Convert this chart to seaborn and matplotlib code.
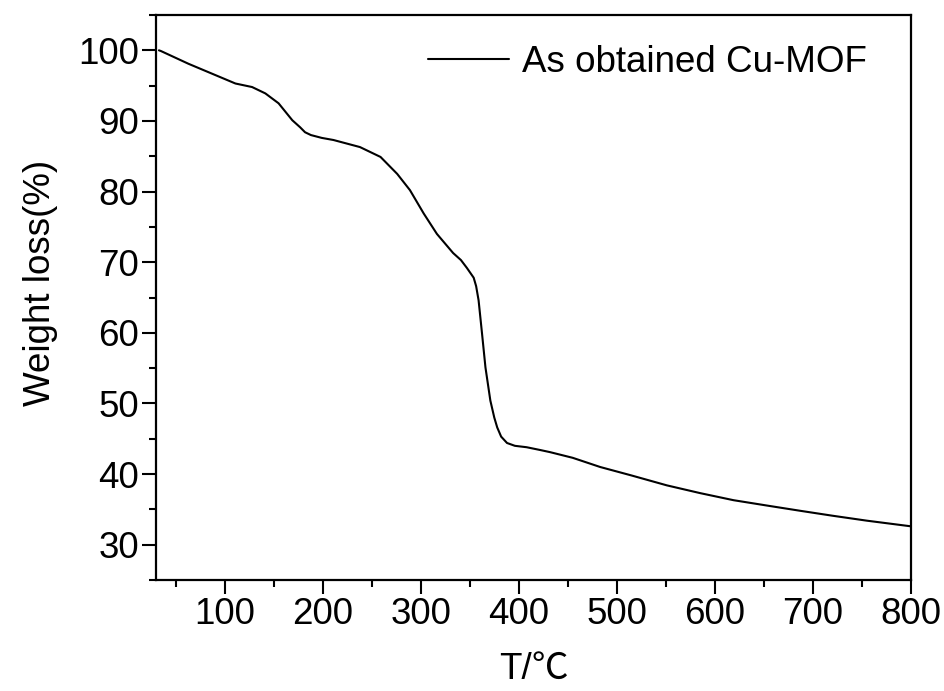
import matplotlib
matplotlib.use("Agg")
import matplotlib.pyplot as plt
import seaborn as sns
import pandas as pd
from matplotlib.ticker import MultipleLocator

temperature = [33, 35, 63, 87, 111, 128, 141.5, 155, 169, 177, 182, 188, 199, 211,
               238, 259, 276, 289, 303, 316.5, 333, 341, 347, 354, 356.5, 359,
               362.5, 366, 371, 375, 378, 382, 388, 396, 408, 422, 432, 455, 483,
               515, 551, 585, 619, 655, 687, 720, 755, 800]
weight = [100, 99.9, 98.1, 96.7, 95.3, 94.8, 93.9, 92.5, 90.1, 89.1, 88.4, 88.0,
          87.6, 87.3, 86.3, 84.9, 82.5, 80.2, 76.9, 74.0, 71.3, 70.3, 69.2, 67.8,
          66.6, 64.6, 59.9, 55.1, 50.4, 48.0, 46.6, 45.3, 44.4, 44.0, 43.8, 43.4,
          43.1, 42.3, 41.0, 39.8, 38.4, 37.3, 36.3, 35.5, 34.8, 34.1, 33.4, 32.6]
series_name = "As obtained Cu-MOF"
x_ticks = [100, 200, 300, 400, 500, 600, 700, 800]
y_ticks = [30, 40, 50, 60, 70, 80, 90, 100]

df = pd.DataFrame({"T": temperature, "W": weight, "series": series_name})

sns.set_style("ticks")
plt.rcParams["font.family"] = ["Liberation Sans", "Noto Sans CJK SC", "DejaVu Sans"]
plt.rcParams["text.color"] = "black"
plt.rcParams["axes.labelcolor"] = "black"
plt.rcParams["xtick.color"] = "black"
plt.rcParams["ytick.color"] = "black"
plt.rcParams["lines.solid_joinstyle"] = "round"

fig = plt.figure(figsize=(9.44, 6.91), dpi=100)
ax = fig.add_axes([156/944, 1-580/691, (911-156)/944, (580-15)/691])

sns.lineplot(data=df, x="T", y="W", hue="series", palette=["black"],
             linewidth=1.5, ax=ax, sort=True)

ax.set_xlim(30, 800)
ax.set_ylim(25, 105)
ax.set_xticks(x_ticks)
ax.set_yticks(y_ticks)
ax.xaxis.set_minor_locator(MultipleLocator(50))
ax.yaxis.set_minor_locator(MultipleLocator(5))
ax.tick_params(which="major", direction="out", length=10, width=1.5,
               labelsize=26.5, pad=2, colors="black")
ax.tick_params(which="minor", direction="out", length=5, width=1.5)
for s in ax.spines.values():
    s.set_linewidth(1.6)
    s.set_color("black")
    s.set_visible(True)

ax.set_xlabel("T/℃", fontsize=26.5, color="black",
              family=["Liberation Sans", "Noto Sans CJK SC"])
ax.set_ylabel("Weight loss(%)", fontsize=26.5, color="black")
ax.xaxis.set_label_coords(0.5, -0.128)
ax.xaxis.label.set_va("top")
ax.yaxis.set_label_coords(-0.130, 0.525)

leg = ax.legend(loc="center left", bbox_to_anchor=((428-156)/755, (580-62)/565),
                frameon=False, fontsize=26.5, handlelength=2.2, handletextpad=0.35,
                borderpad=0, borderaxespad=0, title=None)
for line in leg.get_lines():
    line.set_linewidth(1.5)
for t in leg.get_texts():
    t.set_color("black")

fig.savefig("out.png", dpi=100)
